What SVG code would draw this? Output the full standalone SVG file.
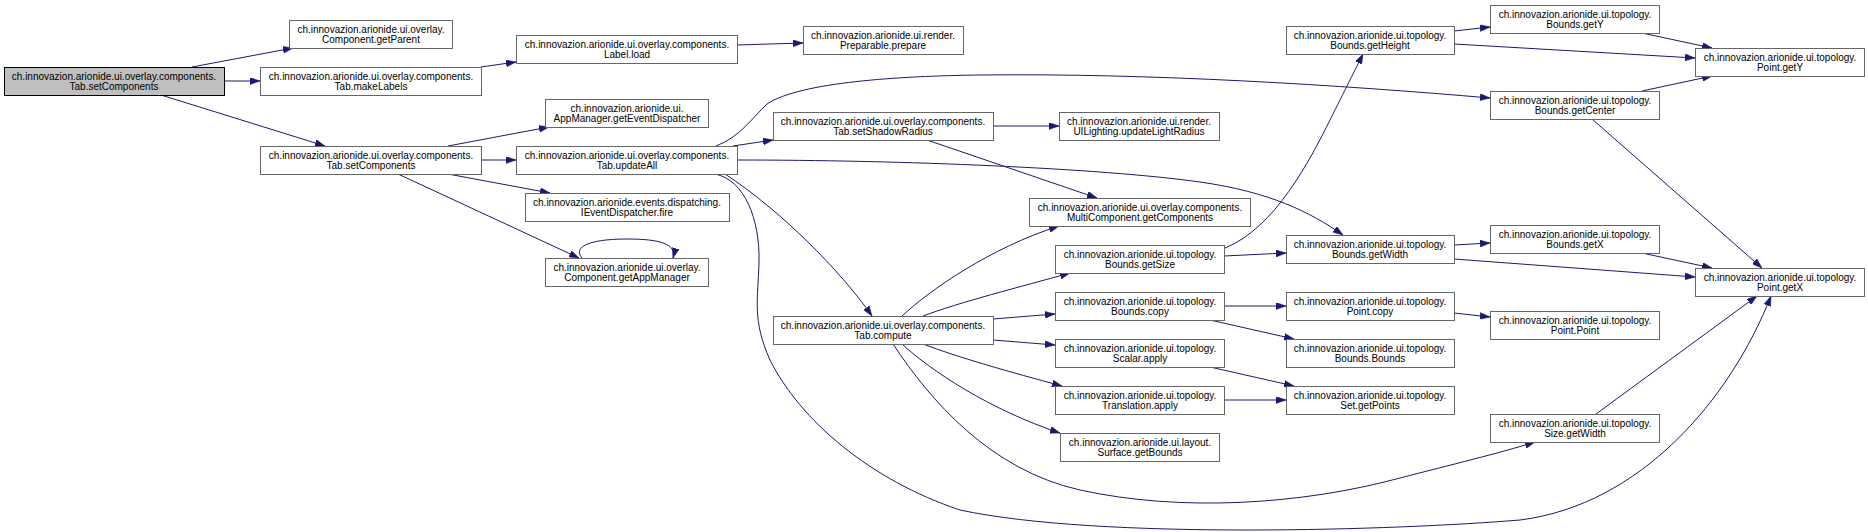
<svg xmlns="http://www.w3.org/2000/svg" width="1868" height="532" viewBox="0 0 1868 532">
<style>
.n rect{fill:#fff;stroke:#666;stroke-width:1}
.n.root rect{fill:#bfbfbf;stroke:#000}
.n text{font-family:"Liberation Sans",Arial,Helvetica,sans-serif;font-size:10px;text-anchor:middle;fill:#000}
.e path{fill:none;stroke:#191970;stroke-width:1;marker-end:url(#ah)}
</style>
<defs>
<marker id="ah" viewBox="0 0 10 7" refX="10" refY="3.5" markerWidth="10" markerHeight="7" markerUnits="userSpaceOnUse" orient="auto">
<path d="M0,0 L10,3.5 L0,7 z" fill="#191970" stroke="#191970" stroke-width="0.5"/>
</marker>
</defs>
<rect width="1868" height="532" fill="#fff"/>
<g id="edges" class="e">
<path d="M192,67 L293,48"/>
<path d="M224,81 L260,81"/>
<path d="M161,95 L325,146"/>
<path d="M481,67 L516,62"/>
<path d="M737,45 L803,43"/>
<path d="M448,146 L549,127"/>
<path d="M481,160 L516,160"/>
<path d="M448,174 L550,193"/>
<path d="M398,174 L579,258"/>
<path d="M582,258 C572,246 592,239 627,239 C660,239 677,244 673,258"/>
<path d="M716,146 C740,137 752,118 767,104 C800,82 900,76 980,75 C1150,73 1340,85 1490,98"/>
<path d="M733,146 L773,140"/>
<path d="M737,160 C900,160 1100,168 1200,182 C1270,192 1310,212 1343,235"/>
<path d="M725,174 C780,210 840,270 872,316"/>
<path d="M715,174 C745,180 760,220 759,262 C758,300 752,320 770,360 C800,420 870,480 960,510 C1100,540 1400,530 1520,520 C1640,505 1730,400 1771,296"/>
<path d="M993,126 L1059,126"/>
<path d="M927,140 L1097,198"/>
<path d="M902,316 C930,290 990,248 1059,226"/>
<path d="M923,316 C960,302 1020,287 1070,273"/>
<path d="M993,319 L1055,314"/>
<path d="M993,340 L1055,345"/>
<path d="M923,344 C960,358 1010,372 1062,386"/>
<path d="M902,344 C930,370 990,410 1060,433"/>
<path d="M893,344 C930,400 990,470 1080,490 C1180,512 1300,505 1400,478 C1450,465 1500,453 1535,442"/>
<path d="M1225,248 C1275,228 1310,160 1330,120 C1345,90 1355,70 1363,54"/>
<path d="M1224,256 L1286,253"/>
<path d="M1224,306 L1286,306"/>
<path d="M1210,320 L1294,339"/>
<path d="M1210,367 L1294,386"/>
<path d="M1224,400 L1286,400"/>
<path d="M1454,313 L1490,317"/>
<path d="M1454,31 L1490,27"/>
<path d="M1454,44 L1695,58"/>
<path d="M1642,33 L1712,48"/>
<path d="M1642,91 L1712,76"/>
<path d="M1592,119 L1762,268"/>
<path d="M1454,245 L1490,243"/>
<path d="M1454,259 L1695,277"/>
<path d="M1642,253 L1712,268"/>
<path d="M1596,414 L1757,296"/>
</g>
<g id="n0" class="n root"><rect x="4.5" y="67.5" width="220" height="28"/><text x="114" y="79.5">ch.innovazion.arionide.ui.overlay.components.</text><text x="114" y="90">Tab.setComponents</text></g>
<g id="n1" class="n"><rect x="289.5" y="20.5" width="163" height="28"/><text x="371" y="32.5">ch.innovazion.arionide.ui.overlay.</text><text x="371" y="43">Component.getParent</text></g>
<g id="n2" class="n"><rect x="260.5" y="67.5" width="221" height="28"/><text x="371" y="79.5">ch.innovazion.arionide.ui.overlay.components.</text><text x="371" y="90">Tab.makeLabels</text></g>
<g id="n3" class="n"><rect x="260.5" y="146.5" width="221" height="28"/><text x="371" y="158.5">ch.innovazion.arionide.ui.overlay.components.</text><text x="371" y="169">Tab.setComponents</text></g>
<g id="n4" class="n"><rect x="516.5" y="35.5" width="221" height="28"/><text x="627" y="47.5">ch.innovazion.arionide.ui.overlay.components.</text><text x="627" y="58">Label.load</text></g>
<g id="n5" class="n"><rect x="803.5" y="26.5" width="160" height="28"/><text x="883" y="38.5">ch.innovazion.arionide.ui.render.</text><text x="883" y="49">Preparable.prepare</text></g>
<g id="n6" class="n"><rect x="545.5" y="99.5" width="163" height="28"/><text x="627" y="111.5">ch.innovazion.arionide.ui.</text><text x="627" y="122">AppManager.getEventDispatcher</text></g>
<g id="n7" class="n"><rect x="516.5" y="146.5" width="221" height="28"/><text x="627" y="158.5">ch.innovazion.arionide.ui.overlay.components.</text><text x="627" y="169">Tab.updateAll</text></g>
<g id="n8" class="n"><rect x="525.5" y="193.5" width="204" height="28"/><text x="627" y="205.5">ch.innovazion.arionide.events.dispatching.</text><text x="627" y="216">IEventDispatcher.fire</text></g>
<g id="n9" class="n"><rect x="545.5" y="258.5" width="163" height="28"/><text x="627" y="270.5">ch.innovazion.arionide.ui.overlay.</text><text x="627" y="281">Component.getAppManager</text></g>
<g id="n10" class="n"><rect x="773.5" y="112.5" width="220" height="28"/><text x="883" y="124.5">ch.innovazion.arionide.ui.overlay.components.</text><text x="883" y="135">Tab.setShadowRadius</text></g>
<g id="n11" class="n"><rect x="773.5" y="316.5" width="220" height="28"/><text x="883" y="328.5">ch.innovazion.arionide.ui.overlay.components.</text><text x="883" y="339">Tab.compute</text></g>
<g id="n12" class="n"><rect x="1059.5" y="112.5" width="160" height="28"/><text x="1139" y="124.5">ch.innovazion.arionide.ui.render.</text><text x="1139" y="135">UILighting.updateLightRadius</text></g>
<g id="n13" class="n"><rect x="1029.5" y="198.5" width="221" height="28"/><text x="1140" y="210.5">ch.innovazion.arionide.ui.overlay.components.</text><text x="1140" y="221">MultiComponent.getComponents</text></g>
<g id="n14" class="n"><rect x="1055.5" y="245.5" width="169" height="28"/><text x="1140" y="257.5">ch.innovazion.arionide.ui.topology.</text><text x="1140" y="268">Bounds.getSize</text></g>
<g id="n15" class="n"><rect x="1055.5" y="292.5" width="169" height="28"/><text x="1140" y="304.5">ch.innovazion.arionide.ui.topology.</text><text x="1140" y="315">Bounds.copy</text></g>
<g id="n16" class="n"><rect x="1055.5" y="339.5" width="169" height="28"/><text x="1140" y="351.5">ch.innovazion.arionide.ui.topology.</text><text x="1140" y="362">Scalar.apply</text></g>
<g id="n17" class="n"><rect x="1055.5" y="386.5" width="169" height="28"/><text x="1140" y="398.5">ch.innovazion.arionide.ui.topology.</text><text x="1140" y="409">Translation.apply</text></g>
<g id="n18" class="n"><rect x="1060.5" y="433.5" width="159" height="28"/><text x="1140" y="445.5">ch.innovazion.arionide.ui.layout.</text><text x="1140" y="456">Surface.getBounds</text></g>
<g id="n19" class="n"><rect x="1286.5" y="26.5" width="168" height="28"/><text x="1370" y="38.5">ch.innovazion.arionide.ui.topology.</text><text x="1370" y="49">Bounds.getHeight</text></g>
<g id="n20" class="n"><rect x="1286.5" y="235.5" width="168" height="28"/><text x="1370" y="247.5">ch.innovazion.arionide.ui.topology.</text><text x="1370" y="258">Bounds.getWidth</text></g>
<g id="n21" class="n"><rect x="1286.5" y="292.5" width="168" height="28"/><text x="1370" y="304.5">ch.innovazion.arionide.ui.topology.</text><text x="1370" y="315">Point.copy</text></g>
<g id="n22" class="n"><rect x="1286.5" y="339.5" width="168" height="28"/><text x="1370" y="351.5">ch.innovazion.arionide.ui.topology.</text><text x="1370" y="362">Bounds.Bounds</text></g>
<g id="n23" class="n"><rect x="1286.5" y="386.5" width="168" height="28"/><text x="1370" y="398.5">ch.innovazion.arionide.ui.topology.</text><text x="1370" y="409">Set.getPoints</text></g>
<g id="n24" class="n"><rect x="1490.5" y="5.5" width="169" height="28"/><text x="1575" y="17.5">ch.innovazion.arionide.ui.topology.</text><text x="1575" y="28">Bounds.getY</text></g>
<g id="n25" class="n"><rect x="1490.5" y="91.5" width="169" height="28"/><text x="1575" y="103.5">ch.innovazion.arionide.ui.topology.</text><text x="1575" y="114">Bounds.getCenter</text></g>
<g id="n26" class="n"><rect x="1490.5" y="225.5" width="169" height="28"/><text x="1575" y="237.5">ch.innovazion.arionide.ui.topology.</text><text x="1575" y="248">Bounds.getX</text></g>
<g id="n27" class="n"><rect x="1490.5" y="311.5" width="169" height="28"/><text x="1575" y="323.5">ch.innovazion.arionide.ui.topology.</text><text x="1575" y="334">Point.Point</text></g>
<g id="n28" class="n"><rect x="1490.5" y="414.5" width="169" height="28"/><text x="1575" y="426.5">ch.innovazion.arionide.ui.topology.</text><text x="1575" y="437">Size.getWidth</text></g>
<g id="n29" class="n"><rect x="1695.5" y="48.5" width="169" height="28"/><text x="1780" y="60.5">ch.innovazion.arionide.ui.topology.</text><text x="1780" y="71">Point.getY</text></g>
<g id="n30" class="n"><rect x="1695.5" y="268.5" width="169" height="28"/><text x="1780" y="280.5">ch.innovazion.arionide.ui.topology.</text><text x="1780" y="291">Point.getX</text></g>
</svg>
